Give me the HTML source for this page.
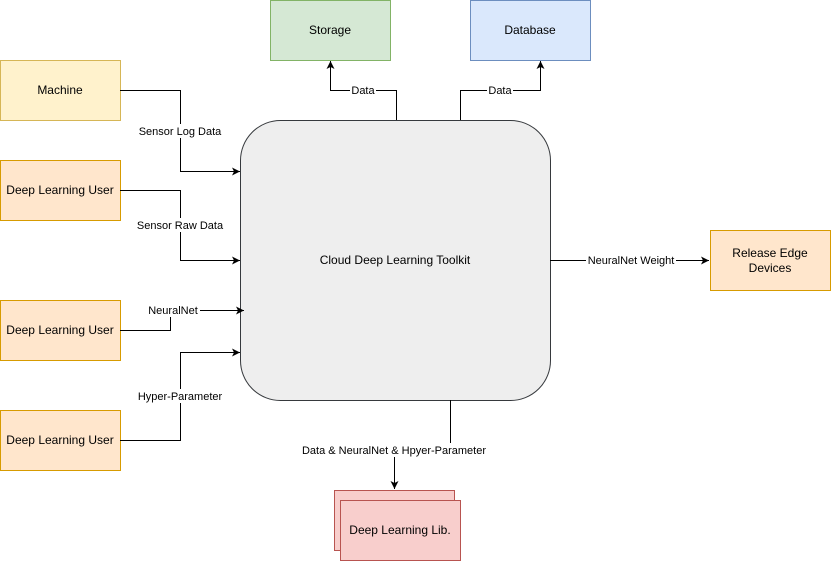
<!DOCTYPE html>
<html><head><style>body{margin:0;background:#fff}</style></head><body>
<svg width="832" height="561" xmlns="http://www.w3.org/2000/svg" font-family="Liberation Sans, Arial, sans-serif" font-size="11">
<defs><marker id="a" markerWidth="10" markerHeight="10" refX="8" refY="5" orient="auto" markerUnits="userSpaceOnUse"><path d="M0,1 L8,5 L0,9 L2,5 Z" fill="#000"/></marker></defs>
<rect x="270.5" y="0.5" width="120" height="60" fill="#d5e8d4" stroke="#82b366"/>
<text x="330" y="34" text-anchor="middle" font-size="12">Storage</text>
<rect x="470.5" y="0.5" width="120" height="60" fill="#dae8fc" stroke="#6c8ebf"/>
<text x="530" y="34" text-anchor="middle" font-size="12">Database</text>
<rect x="0.5" y="60.5" width="120" height="60" fill="#fff2cc" stroke="#d6b656"/>
<text x="60" y="94" text-anchor="middle" font-size="12">Machine</text>
<g fill="#ffe6cc" stroke="#d79b00">
<rect x="0.5" y="160.5" width="120" height="60"/>
<rect x="0.5" y="300.5" width="120" height="60"/>
<rect x="0.5" y="410.5" width="120" height="60"/>
<rect x="710.5" y="230.5" width="120" height="60"/>
</g>
<g font-size="12" text-anchor="middle">
<text x="60" y="194">Deep Learning User</text>
<text x="60" y="334">Deep Learning User</text>
<text x="60" y="444">Deep Learning User</text>
<text x="770" y="257">Release Edge</text>
<text x="770" y="272">Devices</text>
</g>
<rect x="240.5" y="120.5" width="310" height="280" rx="40" fill="#eeeeee" stroke="#36393d"/>
<text x="395" y="264" text-anchor="middle" font-size="12">Cloud Deep Learning Toolkit</text>
<rect x="334.5" y="490.5" width="120" height="60" fill="#f8cecc" stroke="#b85450"/>
<rect x="340.5" y="500.5" width="120" height="60" fill="#f8cecc" stroke="#b85450"/>
<text x="400" y="534" text-anchor="middle" font-size="12">Deep Learning Lib.</text>
<g fill="none" stroke="#000" marker-end="url(#a)">
<path d="M120,90.5 H180.5 V171.5 H240"/>
<path d="M120,190.5 H180.5 V260.5 H240"/>
<path d="M120,330.5 H170.5 V310.5 H244"/>
<path d="M120,440.5 H180.5 V352.5 H240"/>
<path d="M396.5,120 V90.5 H330.5 V61"/>
<path d="M460.5,120 V90.5 H540.5 V61"/>
<path d="M550,260.5 H709"/>
<path d="M450.5,400 V450.5 H394.5 V489"/>
</g>
<g text-anchor="middle">
<rect x="136" y="124" width="88" height="14" fill="#fff"/><text x="180" y="135">Sensor Log Data</text>
<rect x="136" y="218" width="90" height="14" fill="#fff"/><text x="180" y="229">Sensor Raw Data</text>
<rect x="148" y="303" width="52" height="14" fill="#fff"/><text x="173" y="314">NeuralNet</text>
<rect x="137" y="389" width="88" height="14" fill="#fff"/><text x="180" y="400">Hyper-Parameter</text>
<rect x="350" y="83" width="26" height="14" fill="#fff"/><text x="363" y="94">Data</text>
<rect x="487" y="83" width="26" height="14" fill="#fff"/><text x="500" y="94">Data</text>
<rect x="586" y="253" width="90" height="14" fill="#fff"/><text x="631" y="264">NeuralNet Weight</text>
<rect x="301" y="443" width="186" height="14" fill="#fff"/><text x="394" y="454">Data &amp; NeuralNet &amp; Hpyer-Parameter</text>
</g>
</svg>
</body></html>
